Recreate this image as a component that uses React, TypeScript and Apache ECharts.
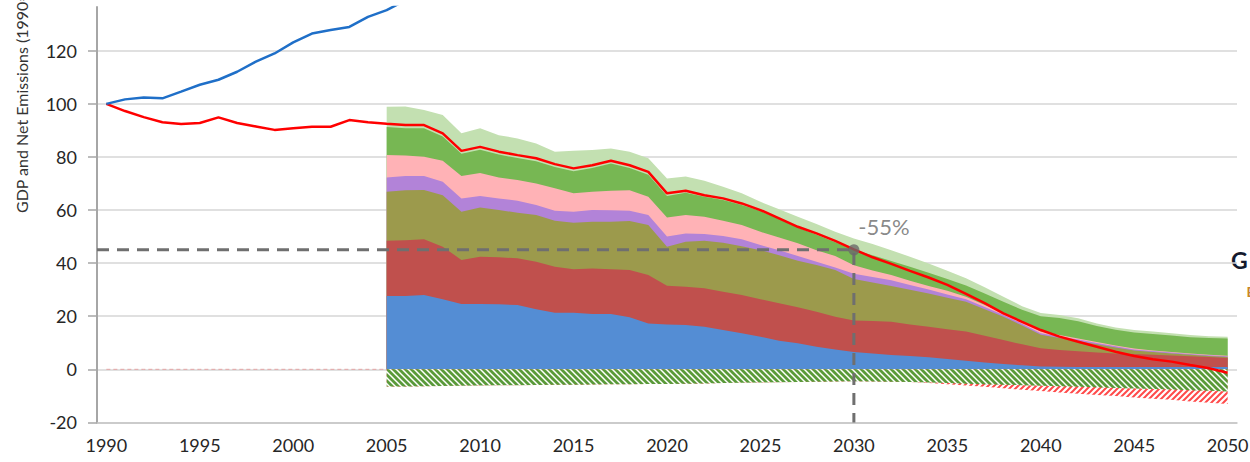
import React, { useEffect, useRef } from "react";
import * as echarts from "echarts";

// Categories (x axis) and tick labels
const years: string[] = Array.from({ length: 61 }, (_, i) => String(1990 + i));
const yTicks = [-20, 0, 20, 40, 60, 80, 100, 120];

// Historical lines, 1990-2006 (index 1990 = 100)
const gdp = [100, 101.7, 102.4, 102.1, 104.6, 107.2, 109.1, 112.1, 115.9, 119.0, 123.2, 126.5, 127.8, 129.0, 132.8, 135.3, 139.0];

// Net emissions 1990-2050
const netEmissions = [
  100, 97.3, 95.0, 93.1, 92.4, 92.8, 94.9, 92.8, 91.5, 90.2,
  90.8, 91.4, 91.4, 93.9, 93.1, 92.5, 92.0, 92.0, 88.9, 82.3,
  83.8, 82.0, 80.7, 79.5, 77.3, 75.7, 76.9, 78.6, 76.9, 74.4,
  66.3, 67.3, 65.6, 64.4, 62.5, 60.0, 56.9, 53.7, 51.2, 48.4,
  45.2, 42.2, 39.7, 37.1, 34.6, 31.8, 28.4, 24.9, 21.1, 17.9,
  14.8, 12.3, 10.4, 8.5, 6.6, 5.0, 3.8, 2.9, 1.6, 0.4,
  -1.3,
];

// Upper edges of the stacked gross-emission layers, 2005-2050
const layerTotal = [
  98.9, 99.0, 97.7, 95.8, 88.9, 90.8, 88.2, 87.0, 85.1, 82.0,
  82.3, 82.6, 83.2, 82.0, 79.5, 71.9, 72.6, 71.0, 68.8, 66.3,
  63.1, 60.3, 57.5, 54.7, 51.8, 49.3, 47.2, 44.9, 42.4, 39.9,
  37.1, 34.3, 30.9, 27.3, 23.8, 21.2, 20.5, 19.2, 17.3, 15.8,
  14.8, 14.2, 13.6, 12.9, 12.5, 12.3,
];
const layerGreen = [
  91.3, 90.8, 90.8, 87.7, 81.2, 82.7, 80.9, 79.6, 78.4, 76.2,
  74.6, 75.8, 77.5, 75.8, 73.3, 65.3, 66.5, 65.0, 63.8, 61.9,
  59.6, 56.6, 53.4, 50.7, 47.9, 45.0, 43.0, 40.8, 38.6, 36.4,
  34.0, 31.6, 28.6, 25.5, 22.4, 20.0, 19.3, 18.1, 16.3, 14.9,
  13.9, 13.3, 12.7, 12.1, 11.8, 11.6,
];
const layerPink = [
  80.7, 80.6, 80.1, 78.6, 72.8, 74.0, 72.3, 71.3, 70.0, 68.2,
  66.3, 66.9, 67.3, 67.5, 65.0, 57.2, 58.1, 57.5, 56.0, 54.4,
  51.8, 49.7, 47.5, 44.9, 42.7, 39.2, 37.2, 35.5, 33.4, 31.4,
  29.6, 27.3, 24.2, 21.1, 17.9, 14.2, 12.9, 11.6, 10.3, 9.0,
  7.8, 7.1, 6.5, 6.0, 5.5, 5.1,
];
const layerPurple = [
  72.3, 72.8, 72.8, 70.7, 64.4, 65.3, 64.4, 63.5, 61.9, 59.7,
  59.4, 60.0, 59.9, 59.7, 58.1, 50.0, 51.2, 51.0, 50.2, 49.0,
  46.8, 44.9, 42.7, 40.5, 38.4, 36.0, 34.8, 33.6, 31.8, 30.1,
  28.2, 26.4, 23.5, 20.5, 17.2, 13.6, 12.4, 11.2, 9.9, 8.7,
  7.5, 6.9, 6.3, 5.8, 5.3, 4.9,
];
const layerOlive = [
  66.9, 67.5, 67.6, 65.6, 59.4, 61.0, 60.0, 59.0, 58.1, 56.0,
  55.2, 55.6, 55.6, 55.9, 54.4, 46.2, 48.1, 48.4, 47.7, 46.4,
  44.9, 43.0, 40.9, 39.3, 37.4, 34.0, 32.7, 31.4, 30.0, 28.6,
  27.0, 25.5, 22.6, 19.8, 16.5, 13.0, 11.8, 10.6, 9.4, 8.2,
  7.1, 6.5, 6.0, 5.5, 5.0, 4.6,
];
const layerRed = [
  48.4, 48.6, 49.0, 46.2, 41.2, 42.4, 42.2, 41.8, 40.5, 38.6,
  37.7, 38.0, 37.7, 37.4, 35.5, 31.5, 31.1, 30.5, 29.2, 28.0,
  26.4, 24.9, 23.4, 21.7, 19.8, 18.4, 18.2, 17.9, 16.9, 16.0,
  15.1, 14.2, 12.6, 11.0, 9.4, 7.9, 7.3, 6.8, 6.3, 6.0,
  5.8, 5.5, 5.2, 4.9, 4.6, 4.3,
];
const layerBlue = [
  27.6, 27.6, 28.0, 26.4, 24.6, 24.6, 24.5, 24.2, 22.6, 21.3,
  21.3, 20.8, 20.8, 19.6, 17.3, 16.9, 16.7, 16.0, 14.8, 13.6,
  12.3, 10.8, 9.8, 8.5, 7.5, 6.5, 6.0, 5.4, 5.0, 4.5,
  3.9, 3.2, 2.6, 2.0, 1.5, 1.1, 1.0, 0.9, 0.9, 0.9,
  0.9, 0.9, 0.9, 0.9, 0.9, 0.9,
];

// Removals (negative), 2005-2050
const removalsGreen = [
  -6.5, -6.5, -6.4, -6.3, -6.2, -6.1, -6.0, -6.0, -5.9, -5.8,
  -5.8, -5.7, -5.6, -5.6, -5.5, -5.5, -5.4, -5.3, -5.2, -5.1,
  -5.0, -4.9, -4.8, -4.7, -4.6, -4.5, -4.6, -4.7, -4.8, -5.0,
  -5.2, -5.4, -5.6, -5.8, -6.0, -6.2, -6.4, -6.6, -6.8, -7.0,
  -7.2, -7.4, -7.6, -7.9, -8.1, -8.4,
];
const removalsRed = [
  0, 0, 0, 0, 0, 0, 0, 0, 0, 0,
  0, 0, 0, 0, 0, 0, 0, 0, 0, 0,
  0, 0, 0, 0, 0, 0, 0, 0, 0, -0.2,
  -0.4, -0.7, -1.0, -1.3, -1.7, -2.0, -2.3, -2.6, -2.9, -3.1,
  -3.4, -3.7, -3.9, -4.2, -4.5, -4.7,
];

// Target point
const targetYear = 2030;
const targetValue = 45;
const targetLabel = "-55%";

const PAD = 15; // 1990-2004 have no sector data
const pad = (arr: (number | null)[]) => [...Array(PAD).fill(null), ...arr];

function hatch(color: string, dir: number, lw: number) {
  const s = 6;
  const c = document.createElement("canvas");
  c.width = s;
  c.height = s;
  const g = c.getContext("2d")!;
  g.fillStyle = "#ffffff";
  g.fillRect(0, 0, s, s);
  g.strokeStyle = color;
  g.lineWidth = lw;
  g.beginPath();
  if (dir > 0) {
    g.moveTo(-1, -1); g.lineTo(s + 1, s + 1);
    g.moveTo(-1, s - 1); g.lineTo(1, s + 1);
    g.moveTo(s - 1, -1); g.lineTo(s + 1, 1);
  } else {
    g.moveTo(-1, s + 1); g.lineTo(s + 1, -1);
    g.moveTo(-1, 1); g.lineTo(1, -1);
    g.moveTo(s - 1, s + 1); g.lineTo(s + 1, s - 1);
  }
  g.stroke();
  return { image: c, repeat: "repeat", imageWidth: s, imageHeight: s };
}

export default function App() {
  const ref = useRef<HTMLDivElement>(null);

  useEffect(() => {
    if (!ref.current) return;
    const chart = echarts.init(ref.current, undefined, { renderer: "svg" });

    const area = (name: string, data: (number | null)[], color: any) => ({
      name,
      type: "line",
      data,
      symbol: "none",
      showSymbol: false,
      lineStyle: { width: 0 },
      areaStyle: { color, opacity: 1 },
      z: 2,
    });

    const removalsRedCum = removalsRed.map((v, i) => +(v + removalsGreen[i]).toFixed(2));
    const baseline = years.map((y) => (+y <= 2005 ? 0 : null));

    const option: any = {
      animation: false,
      backgroundColor: "#ffffff",
      grid: { left: 97, right: 13, top: 7, bottom: 39.6, containLabel: false, outerBoundsMode: "none" },
      xAxis: [
        {
          type: "category",
          data: years,
          boundaryGap: true,
          axisLine: { onZero: false, lineStyle: { color: "#c4c4c4", width: 1.5 } },
          axisTick: { show: false },
          axisLabel: { interval: 4, color: "#262626", fontSize: 18, fontFamily: "Lato", margin: 14 },
          splitLine: { show: false },
        },
        { type: "value", min: 1989.5, max: 2050.5, show: false },
      ],
      yAxis: {
        type: "value",
        min: -20,
        max: 136.5,
        interval: 20,
        axisLine: { show: true, lineStyle: { color: "#a6a6a6", width: 2 } },
        axisTick: { show: true, length: 9, customValues: yTicks, lineStyle: { color: "#a6a6a6", width: 1.5 } },
        axisLabel: {
          customValues: yTicks,
          color: "#262626",
          fontSize: 18,
          fontFamily: "Lato",
          margin: 20,
          formatter: (v: number) => (yTicks.includes(v) ? String(v) : ""),
        },
        splitLine: {
          show: true,
          lineStyle: {
            color: ["#d6d6d6", "#d6d6d6", "#d6d6d6", "#d6d6d6", "#d6d6d6", "#d6d6d6", "#d6d6d6", "#d6d6d6", "rgba(0,0,0,0)"],
            width: 1.5,
          },
        },
      },
      series: [
        area("Top layer", pad(layerTotal), "#c3e0b1"),
        area("Green", pad(layerGreen), "#77b753"),
        area("Pink", pad(layerPink), "#ffb2b6"),
        area("Purple", pad(layerPurple), "#b283d8"),
        area("Olive", pad(layerOlive), "#9c9a4c"),
        area("Red", pad(layerRed), "#c0504d"),
        area("Blue", pad(layerBlue), "#548dd4"),
        area("Removals 2", pad(removalsRedCum), hatch("#ff4a4a", -1, 2)),
        area("Removals 1", pad(removalsGreen), hatch("#5a9a3a", 1, 2.8)),
        {
          name: "Baseline",
          type: "line",
          data: baseline,
          symbol: "none",
          lineStyle: { color: "#e3a3a3", width: 1, type: [4, 3] },
          z: 3,
        },
        {
          name: "Target",
          type: "line",
          xAxisIndex: 1,
          data: [
            [1989.5, targetValue],
            [targetYear, targetValue],
            [targetYear, -20],
          ],
          symbol: "none",
          lineStyle: { color: "#6f6f6f", width: 3, type: [12, 8] },
          z: 4,
        },
        {
          name: "Net emissions",
          type: "line",
          data: netEmissions,
          symbol: "none",
          lineStyle: { color: "#ff0000", width: 2.5 },
          z: 5,
        },
        {
          name: "GDP",
          type: "line",
          data: gdp,
          symbol: "none",
          lineStyle: { color: "#1f6fc8", width: 2.5 },
          z: 5,
        },
        {
          name: "Target point",
          type: "scatter",
          xAxisIndex: 1,
          data: [[targetYear, targetValue]],
          symbol: "circle",
          symbolSize: 11,
          itemStyle: { color: "#6a6a6a" },
          label: {
            show: true,
            formatter: targetLabel,
            position: "top",
            offset: [30, -2],
            fontSize: 22,
            fontFamily: "Lato",
            color: "#6a6a6a",
          },
          z: 6,
        },
      ],
      graphic: [
        {
          type: "text",
          x: 21,
          y: 213,
          rotation: Math.PI / 2,
          style: {
            text: "GDP and Net Emissions (1990=100)",
            fill: "#333333",
            font: "16px Lato",
            align: "left",
            verticalAlign: "middle",
          },
        },
        {
          type: "text",
          x: 1231,
          y: 260,
          style: { text: "G", fill: "#141a2e", font: "bold 23px Lato", align: "left", verticalAlign: "middle" },
        },
        {
          type: "text",
          x: 1246.5,
          y: 291,
          style: { text: "E", fill: "#c8862c", font: "bold 14px Lato", align: "left", verticalAlign: "middle" },
        },
      ],
    };

    chart.setOption(option);
    return () => chart.dispose();
  }, []);

  return (
    <div
      ref={ref}
      style={{ position: "fixed", left: 0, top: 0, width: 1250, height: 462, background: "#fff" }}
    />
  );
}
